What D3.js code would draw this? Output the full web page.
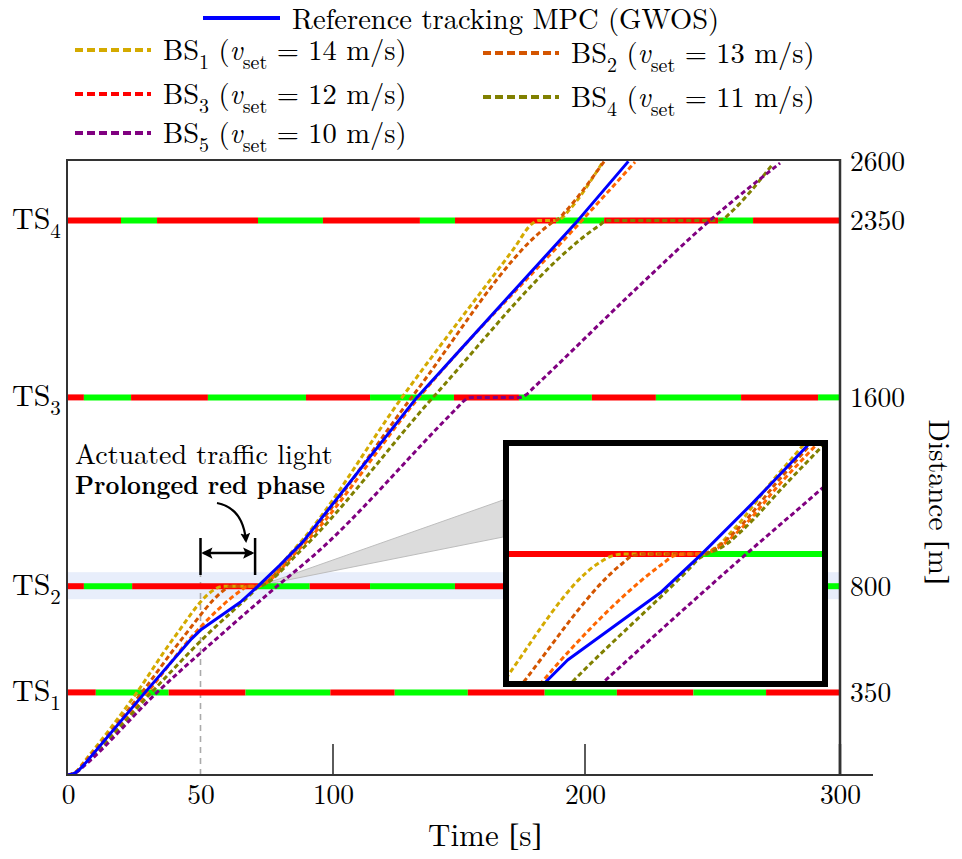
<!DOCTYPE html>
<html><head><meta charset="utf-8">
<script src="https://cdn.jsdelivr.net/npm/d3@7"></script>
<style>
body{margin:0;background:#fff;}
svg{display:block;}
text{white-space:pre;}
</style>
</head><body>
<svg id="c" width="962" height="859"></svg>
<script>
// ---------------- DATA ----------------
const timeTicks = [0, 50, 100, 200, 300];
const timeInnerTicks = [100, 200, 300];
const distTicks = [350, 800, 1600, 2350, 2600];
const tsNames = ["1", "2", "3", "4"];
const tsPos = [350, 800, 1600, 2350];
// switching times of each traffic signal, first phase red, then alternating
const ts1Switch = [0, 10.5, 38, 67, 99, 124.5, 153.5, 184, 212.5, 242.5, 271, 300];
const ts2Switch = [0, 6, 24.2, 71.7, 91.2, 114.7, 148.4, 182, 212, 241, 270.5, 290, 300];
const ts3Switch = [0, 6, 23.8, 52.8, 89.8, 114.7, 148, 173.8, 202.7, 227.8, 261.2, 291.4, 300];
const ts4Switch = [0, 20, 33.6, 71.7, 96.2, 134.5, 148.4, 188.5, 207.5, 252.2, 265.9, 300];

const seriesNames = ["BS", "BS", "BS", "BS", "BS"];
const seriesIdx = ["1", "2", "3", "4", "5"];
const vset = [14, 13, 12, 11, 10];
const legendColors = ["#d4aa00", "#d45500", "#ff0000", "#808000", "#800080"];
const lineColors = ["#d4aa00", "#d45500", "#ff6600", "#808000", "#800080"];
const mpcName = "Reference tracking MPC (GWOS)";

// [time s, distance m]
const bs1 = [[0,0],[3,14],[6,55],[26,350],[39.7,577],[55,784],[57.2,797],[59,800],[71.7,800],[74,812],[77.2,847],[82.9,925],[88.4,995],[127.4,1600],[171.4,2225],[179.4,2339],[181.5,2350],[188.5,2350],[190.5,2358],[193,2385],[207.1,2600]];
const bs2 = [[0,0],[3,13],[6,50],[27.9,350],[43,577],[58.9,784],[60.5,797],[62.5,800],[71.7,800],[74.2,812],[77.8,847],[83.8,925],[89.5,995],[131.2,1600],[185,2325],[187.5,2345],[189.5,2357],[192,2385],[207.5,2600]];
const bs3 = [[0,0],[3,12],[6,46],[30,350],[47,590],[50.7,635],[65.5,784],[67.2,797],[69,800],[71.7,800],[74.5,812],[78.3,847],[84.5,925],[90.5,995],[134.1,1600],[198.8,2350],[219.6,2597]];
const bs4 = [[0,0],[3,11],[6,42],[31.5,350],[50.9,577],[69.5,772],[71.5,794],[72.5,800],[75,812],[78.8,847],[85.5,925],[91.7,995],[139.7,1600],[205.5,2328],[208.6,2350],[252.2,2350],[254.5,2358],[257,2382],[273.7,2590]];
const bs5 = [[0,0],[3,10],[6,38],[33.6,350],[56,577],[78.9,800],[92.7,930],[149.2,1555],[152.5,1590],[155,1600],[173.8,1600],[176.5,1610],[179.5,1640],[221.6,2076],[249,2350],[276.5,2593]];
const mpc = [[0,0],[1.5,3],[3,11],[4.5,25],[6,43],[29.1,350],[46.6,577],[50,614],[65,732],[71.7,800],[80,890],[88.7,989],[133.3,1600],[197.2,2350],[217,2600]];

const insetTime = [40.5, 91.2];
const insetDist = [577, 990];
const prolongedStart = 50, prolongedEnd = 70.6;

// ---------------- LAYOUT ----------------
const FONT = "'Latin Modern Roman', 'CMU Serif', 'Liberation Serif', serif";
const svg = d3.select("#c").style("font-family", FONT);
const x = d3.scaleLinear().domain([0, 100, 200, 300]).range([68, 333, 585, 840]);
const y = d3.scaleLinear().domain([0, 2600]).range([775, 161.4]);
const xi = d3.scaleLinear().domain(insetTime).range([509, 822]);
const yi = d3.scaleLinear().domain(insetDist).range([681, 446]);

const defs = svg.append("defs");
defs.append("clipPath").attr("id", "plotClip").append("rect")
  .attr("x", 67).attr("y", 160).attr("width", 773).attr("height", 615);
defs.append("clipPath").attr("id", "insetClip").append("rect")
  .attr("x", 509).attr("y", 446).attr("width", 313).attr("height", 235);
defs.append("marker").attr("id", "ah").attr("viewBox", "0 0 10 10")
  .attr("refX", 8).attr("refY", 5).attr("markerWidth", 4.5).attr("markerHeight", 4.5)
  .attr("orient", "auto-start-reverse")
  .append("path").attr("d", "M0,0L10,5L0,10L2,5z").attr("fill", "#000");

const tsSwitch = [ts1Switch, ts2Switch, ts3Switch, ts4Switch];
function phases(sw) {
  const out = [];
  for (let i = 0; i < sw.length - 1; i++) out.push({t0: sw[i], t1: sw[i + 1], c: i % 2 === 0 ? "#ff0000" : "#00ff00"});
  return out;
}
function txt(g) { return g.append("text").style("font-family", FONT).attr("fill", "#000"); }

// highlight band around TS2
svg.append("rect").attr("x", 67).attr("width", 773)
  .attr("y", y(800) - 14).attr("height", 27).attr("fill", "#e8eefb");

// grey cone to the inset
svg.append("polygon")
  .attr("points", [[x(73), y(800) - 1], [503, yi(895)], [503, yi(830)]].map(p => p.join(",")).join(" "))
  .attr("fill", "#dcdcdc").attr("stroke", "#bdbdbd").attr("stroke-width", 1);

// dashed vertical at t=50
svg.append("line").attr("x1", x(prolongedStart)).attr("x2", x(prolongedStart))
  .attr("y1", y(0)).attr("y2", y(800) - 11)
  .attr("stroke", "#aaaaaa").attr("stroke-width", 1.6).attr("stroke-dasharray", "6,5");

// signal bars
tsPos.forEach((d, k) => {
  svg.append("g").selectAll("line").data(phases(tsSwitch[k])).join("line")
    .attr("x1", p => x(p.t0)).attr("x2", p => x(p.t1))
    .attr("y1", y(d)).attr("y2", y(d))
    .attr("stroke", p => p.c).attr("stroke-width", 6);
});

// trajectories
const series = [bs1, bs2, bs3, bs4, bs5];
function drawLines(g, sx, sy, dash) {
  const line = d3.line().x(p => sx(p[0])).y(p => sy(p[1])).curve(d3.curveMonotoneX);
  const lineLin = d3.line().x(p => sx(p[0])).y(p => sy(p[1]));
  series.forEach((s, i) => {
    g.append("path").attr("d", line(s)).attr("fill", "none")
      .attr("stroke", lineColors[i]).attr("stroke-width", 3)
      .attr("stroke-dasharray", dash);
  });
  g.append("path").attr("d", lineLin(mpc)).attr("fill", "none")
    .attr("stroke", "#0000ff").attr("stroke-width", 3).attr("stroke-linejoin", "round");
}
drawLines(svg.append("g").attr("clip-path", "url(#plotClip)"), x, y, "5,3");

// frame
const frame = svg.append("g").attr("stroke", "#333").attr("fill", "none");
frame.append("line").attr("x1", 67).attr("x2", 67).attr("y1", 160).attr("y2", 776).attr("stroke-width", 2);
frame.append("line").attr("x1", 66).attr("x2", 841).attr("y1", 160).attr("y2", 160).attr("stroke-width", 2);
frame.append("line").attr("x1", 840).attr("x2", 840).attr("y1", 159).attr("y2", 776).attr("stroke-width", 2.5);
frame.append("line").attr("x1", 66).attr("x2", 873).attr("y1", 775).attr("y2", 775).attr("stroke-width", 2.2);
svg.append("g").selectAll("line").data(timeInnerTicks).join("line")
  .attr("x1", d => x(d)).attr("x2", d => x(d)).attr("y1", 775).attr("y2", 744)
  .attr("stroke", "#333").attr("stroke-width", d => d === 300 ? 2.5 : 1.6);

// axes labels
const xAxis = svg.append("g").attr("transform", "translate(0,775)")
  .call(d3.axisBottom(x).tickValues(timeTicks).tickSize(0).tickPadding(9).tickFormat(d3.format("d")));
xAxis.select(".domain").remove();
xAxis.attr("font-family", null);
xAxis.selectAll("text").attr("font-size", 27.5).style("font-family", FONT).attr("fill", "#000");

const yAxis = svg.append("g").attr("transform", "translate(840,0)")
  .call(d3.axisRight(y).tickValues(distTicks).tickSize(0).tickPadding(10).tickFormat(d3.format("d")));
yAxis.select(".domain").remove();
yAxis.attr("font-family", null);
yAxis.selectAll("text").attr("font-size", 27.5).style("font-family", FONT).attr("fill", "#000");

function bracketLabel(t, word, unit) {
  t.append("tspan").text(word + " ");
  t.append("tspan").style("font-family", "'Liberation Serif', serif").attr("font-weight", 300).text("[");
  t.append("tspan").text(unit);
  t.append("tspan").style("font-family", "'Liberation Serif', serif").attr("font-weight", 300).text("]");
}
bracketLabel(txt(svg).attr("x", 485).attr("y", 846).attr("text-anchor", "middle").attr("font-size", 31), "Time", "s");
bracketLabel(txt(svg).attr("transform", "translate(929,502) rotate(90)").attr("text-anchor", "middle").attr("font-size", 29.5), "Distance", "m");

// rich text helper (subscripts / italics)
function rich(g, px, py, parts, size) {
  const t = txt(g).attr("x", px).attr("y", py).attr("font-size", size);
  let shift = 0;
  parts.forEach(p => {
    const s = t.append("tspan").text(p.t);
    const target = p.sub ? size * 0.3 : 0;
    if (target !== shift) { s.attr("dy", target - shift); shift = target; }
    if (p.sub) s.attr("font-size", size * 0.7);
    if (p.it) s.attr("font-style", "italic");
  });
  return t;
}

// TS labels
tsPos.forEach((d, k) => {
  rich(svg, 12, y(d) + 9, [{t: "TS"}, {t: tsNames[k], sub: true}], 30);
});

// ---------------- INSET ----------------
const inset = svg.append("g");
inset.append("rect").attr("x", 506).attr("y", 443).attr("width", 319).attr("height", 241).attr("fill", "#fff");
const ig = inset.append("g").attr("clip-path", "url(#insetClip)");
ig.selectAll("line").data(phases(ts2Switch)).join("line")
  .attr("x1", p => xi(p.t0)).attr("x2", p => xi(p.t1))
  .attr("y1", yi(800)).attr("y2", yi(800))
  .attr("stroke", p => p.c).attr("stroke-width", 6);
drawLines(ig, xi, yi, "5,3");
inset.append("rect").attr("x", 506).attr("y", 443).attr("width", 319).attr("height", 241)
  .attr("fill", "none").attr("stroke", "#000").attr("stroke-width", 6);

// ---------------- ANNOTATION ----------------
txt(svg).attr("x", 75).attr("y", 464).attr("font-size", 28).text("Actuated traffic light");
txt(svg).attr("x", 75).attr("y", 494).attr("font-size", 26).attr("font-weight", "bold")
  .attr("textLength", 250).attr("lengthAdjust", "spacingAndGlyphs")
  .text("Prolonged red phase");
svg.append("path").attr("d", "M217,503 Q243,508 246,541").attr("fill", "none")
  .attr("stroke", "#000").attr("stroke-width", 2.2).attr("marker-end", "url(#ah)");
[prolongedStart, prolongedEnd].forEach(t => {
  svg.append("line").attr("x1", x(t)).attr("x2", x(t)).attr("y1", 538).attr("y2", 575)
    .attr("stroke", "#000").attr("stroke-width", 2.5);
});
svg.append("line").attr("x1", x(prolongedStart) + 3).attr("x2", x(prolongedEnd) - 3)
  .attr("y1", 553).attr("y2", 553).attr("stroke", "#000").attr("stroke-width", 2.5)
  .attr("marker-start", "url(#ah)").attr("marker-end", "url(#ah)");

// ---------------- LEGEND ----------------
const lg = svg.append("g");
lg.append("line").attr("x1", 203).attr("x2", 280).attr("y1", 18).attr("y2", 18)
  .attr("stroke", "#0000ff").attr("stroke-width", 4);
txt(lg).attr("x", 292).attr("y", 28.5).attr("font-size", 28.5).text(mpcName);
const legPos = [[75, 60], [483, 63], [75, 104], [483, 107], [75, 143]];
seriesNames.forEach((n, i) => {
  const [lx, ly] = legPos[i];
  lg.append("line").attr("x1", lx).attr("x2", lx + 76).attr("y1", ly - 10).attr("y2", ly - 10)
    .attr("stroke", legendColors[i]).attr("stroke-width", 4).attr("stroke-dasharray", "8,4");
  rich(lg, lx + 88, ly, [{t: n}, {t: seriesIdx[i], sub: true}, {t: " ("}, {t: "v", it: true},
    {t: "set", sub: true}, {t: " = " + vset[i] + " m/s)"}], 28.5);
});
</script>
</body></html>
